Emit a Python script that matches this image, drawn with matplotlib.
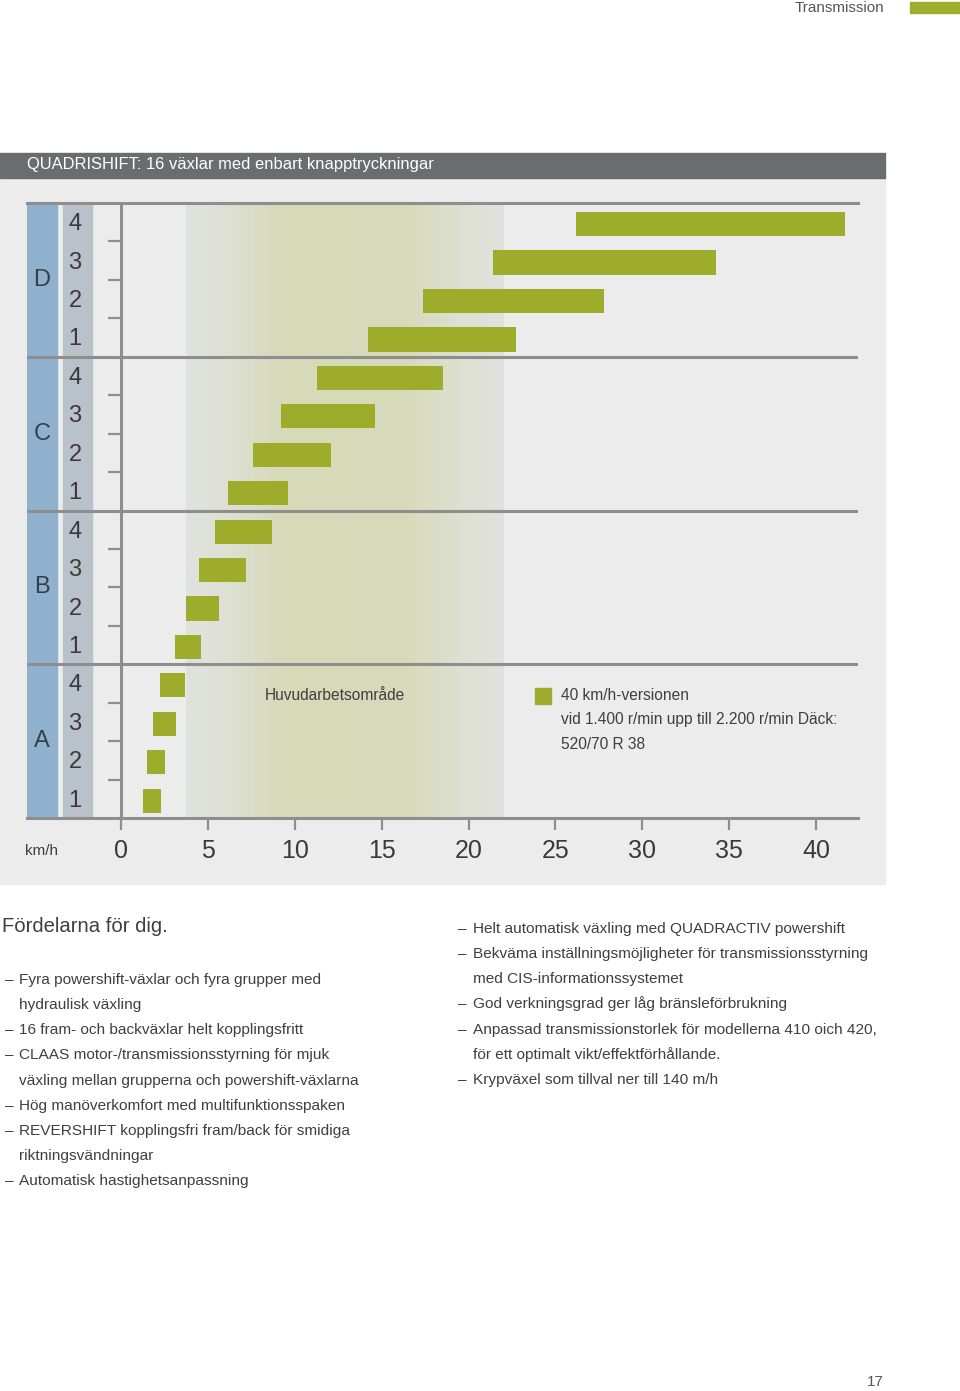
import numpy as np
import matplotlib
matplotlib.use('Agg')
import matplotlib.pyplot as plt
from matplotlib.patches import Rectangle
from matplotlib.colors import LinearSegmentedColormap

# ---- data ----
groups = ['A', 'B', 'C', 'D']
gears = ['1', '2', '3', '4']
# km/h range per gear, rows bottom (A1) to top (D4)
speed_min = [1.27, 1.50, 1.84, 2.24,
             3.11, 3.74, 4.49, 5.41,
             6.16, 7.60, 9.21, 11.28,
             14.22, 17.38, 21.41, 26.19]
speed_max = [2.30, 2.53, 3.17, 3.68,
             4.60, 5.64, 7.19, 8.69,
             9.61, 12.09, 14.62, 18.53,
             22.73, 27.80, 34.24, 41.67]
work_zone = [3.74, 22.0]
xticks = [0, 5, 10, 15, 20, 25, 30, 35, 40]

title = 'QUADRISHIFT: 16 växlar med enbart knapptryckningar'
zone_label = 'Huvudarbetsområde'
legend_lines = ['40 km/h-versionen',
                'vid 1.400 r/min upp till 2.200 r/min Däck:',
                '520/70 R 38']

left_lines = [('– ', 'Fyra powershift-växlar och fyra grupper med'),
              ('', 'hydraulisk växling'),
              ('– ', '16 fram- och backväxlar helt kopplingsfritt'),
              ('– ', 'CLAAS motor-/transmissionsstyrning för mjuk'),
              ('', 'växling mellan grupperna och powershift-växlarna'),
              ('– ', 'Hög manöverkomfort med multifunktionsspaken'),
              ('– ', 'REVERSHIFT kopplingsfri fram/back för smidiga'),
              ('', 'riktningsvändningar'),
              ('– ', 'Automatisk hastighetsanpassning')]
right_lines = [('– ', 'Helt automatisk växling med QUADRACTIV powershift'),
               ('– ', 'Bekväma inställningsmöjligheter för transmissionsstyrning'),
               ('', 'med CIS-informationssystemet'),
               ('– ', 'God verkningsgrad ger låg bränsleförbrukning'),
               ('– ', 'Anpassad transmissionstorlek för modellerna 410 oich 420,'),
               ('', 'för ett optimalt vikt/effektförhållande.'),
               ('– ', 'Krypväxel som tillval ner till 140 m/h')]

# ---- style ----
plt.rcParams['font.family'] = ['Liberation Sans', 'DejaVu Sans']
green = '#9dac2b'
line_gray = '#8e8e8e'
panel = '#ececec'
txt = '#3f3f3f'

W, H = 960, 1391
fig = plt.figure(figsize=(W / 100, H / 100), dpi=100)
fig.patch.set_facecolor('white')

def fx(x):
    return x / W

def fy(y):
    return 1 - y / H

# page header
fig.text(fx(884), fy(8), 'Transmission', ha='right', va='center', fontsize=11, color='#555555')
fig.patches.append(Rectangle((fx(910), fy(13)), fx(50), 11 / H, transform=fig.transFigure,
                             color=green, zorder=-1))

# chart panel + title bar
fig.patches.append(Rectangle((0, fy(884)), fx(885), (884 - 178) / H, transform=fig.transFigure,
                             color=panel, zorder=-1))
fig.patches.append(Rectangle((0, fy(178)), fx(885), 25 / H, transform=fig.transFigure,
                             color='#6b6c6e', zorder=-1))
fig.text(fx(27), fy(165), title, ha='left', va='center', fontsize=11.9, color='white')

# ---- chart axes ----
x0_px, px_per_kmh = 121, 17.375
ax = fig.add_axes([fx(27), fy(818), fx(858 - 27), (818 - 203) / H])
ax.set_zorder(1)
ax.set_facecolor(panel)
ax.set_xlim((27 - x0_px) / px_per_kmh, (858 - x0_px) / px_per_kmh)
ax.set_ylim(0, 16)

for s in ['left', 'right']:
    ax.spines[s].set_visible(False)
for s in ['top', 'bottom']:
    ax.spines[s].set_color(line_gray)
    ax.spines[s].set_linewidth(2.2)

# working-area gradient
cmap = LinearSegmentedColormap.from_list('zone', [(0.0, '#e0e2de'), (0.1, '#dfe1d8'),
                                                  (0.3, '#d6dab9'), (0.7, '#d7dbbb'),
                                                  (0.9, '#dfe1d6'), (1.0, '#e1e2de')])
grad = np.linspace(0, 1, 256).reshape(1, -1)
ax.imshow(grad, cmap=cmap, aspect='auto', extent=(work_zone[0], work_zone[1], 0, 16),
          zorder=0.5)

# left strips
ax.axvspan((27 - x0_px) / px_per_kmh, (57 - x0_px) / px_per_kmh, color='#8fb1cd', zorder=1)
ax.axvspan((63 - x0_px) / px_per_kmh, (92 - x0_px) / px_per_kmh, color='#b9c1ca', zorder=1)

# group separators and axis line
for yv in [4, 8, 12]:
    ax.axhline(yv, color=line_gray, lw=2.2, zorder=2)
ax.axvline(0, color=line_gray, lw=2.2, zorder=2)
minor = [i for i in range(1, 16) if i % 4 != 0]
ax.hlines(minor, (108 - x0_px) / px_per_kmh, 0, color=line_gray, lw=1.6, zorder=2)

# bars
rows = np.arange(16) + 0.5
ax.barh(rows - 0.05, np.array(speed_max) - np.array(speed_min), left=speed_min,
        height=0.63, color=green, zorder=3)

# row / group labels
for gi, g in enumerate(groups):
    ax.text((42 - x0_px) / px_per_kmh, gi * 4 + 2, g, ha='center', va='center',
            fontsize=17, color='#35404a', zorder=4)
    for k, n in enumerate(gears):
        ax.text((75 - x0_px) / px_per_kmh, gi * 4 + k + 0.45, n, ha='center', va='center',
                fontsize=17, color='#3a3a3a', zorder=4)

# zone label and legend
ax.text(12.3, 3.2, zone_label, ha='center', va='center', fontsize=11.2, color=txt, zorder=4)
ax.add_patch(Rectangle((23.83, 2.97), 0.92, 0.42, color=green, zorder=4))
for i, line in enumerate(legend_lines):
    ax.text(25.32, 3.2 - i * 0.65, line, ha='left', va='center', fontsize=11.2,
            color=txt, zorder=4)

# x axis
ax.set_xticks(xticks)
ax.set_xticklabels([str(t) for t in xticks])
ax.tick_params(axis='x', direction='out', length=8.5, width=1.6, color=line_gray,
               labelsize=18, labelcolor='#3a3a3a', pad=6.5)
ax.set_yticks([])
fig.text(fx(25), fy(851), 'km/h', ha='left', va='center', fontsize=11, color=txt)

# ---- body text ----
fig.text(fx(2), fy(927), 'Fördelarna för dig.', ha='left', va='center', fontsize=14.6, color=txt)

def bullets(lines, x_dash, x_text, y_start):
    for i, (dash, line) in enumerate(lines):
        y = fy(y_start + i * 25.15 + 5)
        if dash:
            fig.text(fx(x_dash), y, '–', ha='left', va='baseline', fontsize=11.1, color=txt)
        fig.text(fx(x_text), y, line, ha='left', va='baseline', fontsize=11.1, color=txt)

bullets(left_lines, 5, 19, 979)
bullets(right_lines, 458, 473, 928)

fig.text(fx(884), fy(1382), '17', ha='right', va='center', fontsize=11, color='#555555')

fig.savefig('out.png', dpi=100, facecolor='white')
